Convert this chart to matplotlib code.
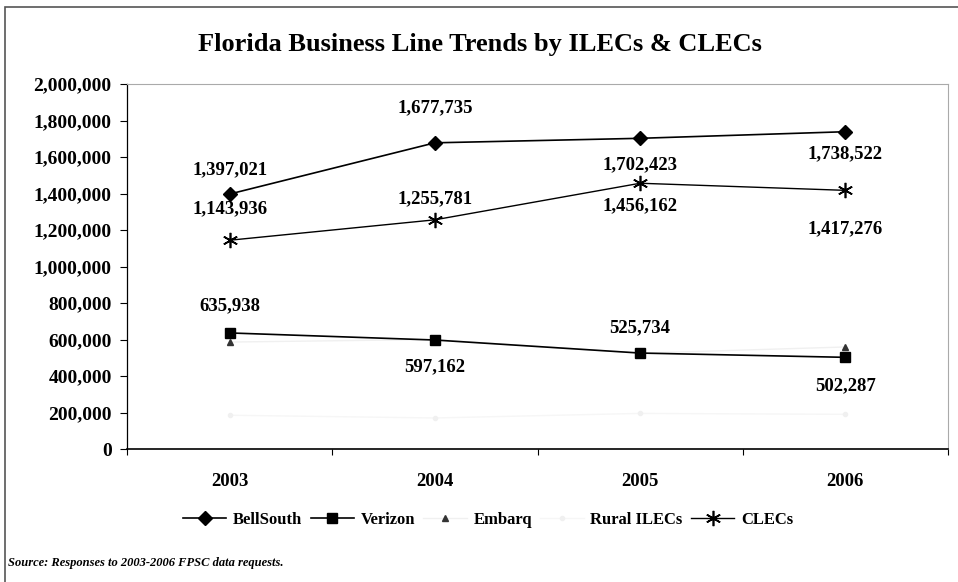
import matplotlib.pyplot as plt
from matplotlib.ticker import FuncFormatter, FixedLocator
from matplotlib.patches import Rectangle

# Dados do grafico
anos = ['2003', '2004', '2005', '2006']
bellsouth = [1397021, 1677735, 1702423, 1738522]
verizon = [635938, 597162, 525734, 502287]
embarq = [586000, 600000, 525000, 559000]      # quase invisivel na imagem
rural_ilecs = [185000, 170000, 195000, 190000]  # quase invisivel na imagem
clecs = [1143936, 1255781, 1456162, 1417276]

# deslocamento vertical dos rotulos em pixels (positivo = acima)
desl_bell = [24, 35, -26, -22]
desl_clec = [31, 21, -22, -38]
desl_ver = [27, -27, 25, -28]

plt.rcParams['font.family'] = ['Liberation Serif', 'DejaVu Serif']

fig = plt.figure(figsize=(9.58, 5.82), dpi=100)
ax = fig.add_axes([127 / 958, 1 - 449 / 582, (948 - 127) / 958, (449 - 84) / 582])

x = list(range(len(anos)))
ax.plot(x, rural_ilecs, color='#f6f6f6', lw=1, marker='o', ms=3, mfc='#f0f0f0', mec='#f0f0f0',
        label='Rural ILECs', zorder=1)
ax.plot(x, embarq, color='#f0f0f0', lw=1, marker='^', ms=5, mfc='#333333', mec='#333333',
        label='Embarq', zorder=1)
ax.plot(x, bellsouth, color='black', lw=1.2, marker='D', ms=7, label='BellSouth', zorder=3)
ax.plot(x, verizon, color='black', lw=1.2, marker='s', ms=7, label='Verizon', zorder=3)
ax.plot(x, clecs, color='black', lw=1.0, marker=(6, 2, 0), ms=11, mew=1.2, label='CLECs', zorder=3)

def rotular(valores, deslocamentos):
    for xi, v, d in zip(x, valores, deslocamentos):
        ax.annotate(f'{v:,}', (xi, v), xytext=(0, d / 1.389), textcoords='offset points',
                    ha='center', va='center', fontsize=13.5, fontweight='bold')

rotular(bellsouth, desl_bell)
rotular(clecs, desl_clec)
rotular(verizon, desl_ver)

ax.set_xlim(-0.5, 3.5)
ax.set_ylim(0, 2000000)
ax.set_yticks(range(0, 2000001, 200000))
ax.yaxis.set_major_formatter(FuncFormatter(lambda v, p: f'{int(v):,}'))
ax.set_xticks(x)
ax.set_xticklabels(anos)
ax.xaxis.set_minor_locator(FixedLocator([-0.5, 0.5, 1.5, 2.5, 3.5]))
ax.tick_params(axis='x', which='major', length=0, pad=17, labelsize=13.5)
ax.tick_params(axis='x', which='minor', length=4, direction='out', width=0.8)
ax.tick_params(axis='y', length=5, width=0.8, labelsize=14, pad=6)
for lbl in ax.get_xticklabels() + ax.get_yticklabels():
    lbl.set_fontweight('bold')

ax.spines['left'].set_linewidth(0.9)
ax.spines['bottom'].set_linewidth(1.2)
for lado in ['top', 'right']:
    ax.spines[lado].set_color('#aaaaaa')
    ax.spines[lado].set_linestyle((0, (1, 1)))
    ax.spines[lado].set_linewidth(0.8)

ordem = ['BellSouth', 'Verizon', 'Embarq', 'Rural ILECs', 'CLECs']
h, l = ax.get_legend_handles_labels()
mapa = dict(zip(l, h))
leg = fig.legend([mapa[n] for n in ordem], ordem, loc='center', bbox_to_anchor=(488 / 958, 1 - 520 / 582),
                 ncol=5, frameon=False, fontsize=12, handlelength=2.6, columnspacing=0.5,
                 handletextpad=0.4)
for t in leg.get_texts():
    t.set_fontweight('bold')

fig.text(480 / 958, 1 - 45 / 582, 'Florida Business Line Trends by ILECs & CLECs', ha='center', va='center',
         fontsize=19, fontweight='bold')
fig.text(8 / 958, 1 - 563 / 582, 'Source: Responses to 2003-2006 FPSC data requests.', ha='left',
         va='center', fontsize=9, fontweight='bold', style='italic')

# moldura externa
fig.patches.append(Rectangle((5 / 958, -0.01), 1.0, 1 - 7 / 582 + 0.01, transform=fig.transFigure,
                             fill=False, edgecolor='#555555', lw=1.2))

fig.savefig('out.png', dpi=100)
